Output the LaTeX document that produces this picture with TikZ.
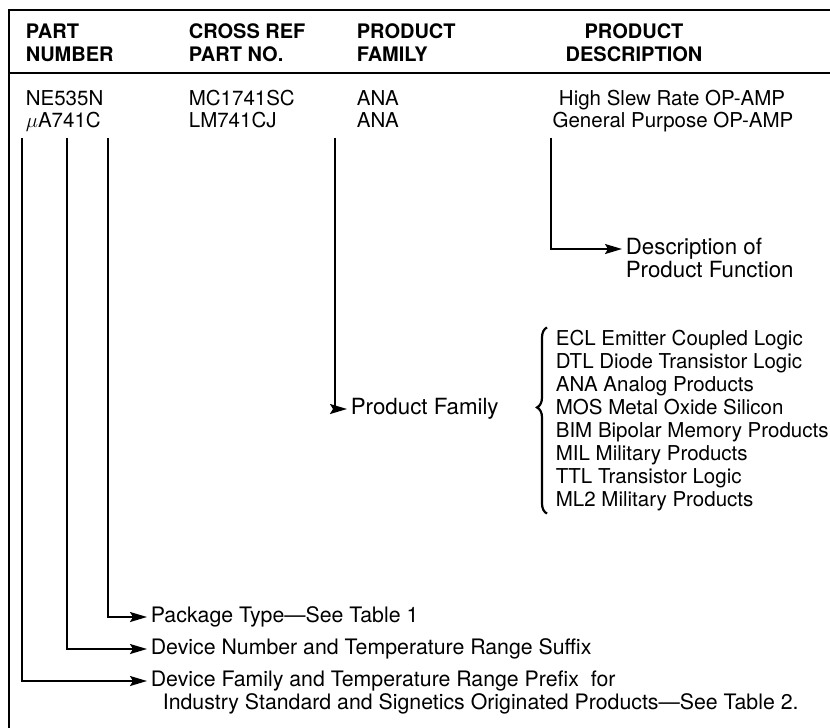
\documentclass[tikz,border=0pt]{standalone}
\usepackage{fontspec}
\setmainfont{TeX Gyre Heros}
\usetikzlibrary{arrows.meta}
\usetikzlibrary{decorations.pathreplacing}

\begin{document}
\begin{tikzpicture}[x=1pt,y=-1pt,->,>={Stealth[length=17pt,width=10pt,inset=3pt]},line width=1.7pt,
	every node/.style={font=\fontsize{20.5}{23}\selectfont,inner sep=0pt},
	hd/.style={font=\fontsize{20}{23}\selectfont\bfseries,align=left,anchor=north west},
	txt/.style={anchor=west,inner xsep=3pt,text height=15pt,text depth=4.5pt},
	note/.style={txt,font=\fontsize{21.3}{23}\selectfont},
	lbl/.style={txt,font=\fontsize{22.3}{23}\selectfont},
	row/.style={anchor=base west}]
	\useasboundingbox (0,0) rectangle (830,728);
	\draw[-] (830,10) -- (9,10) -- (9,728);
	\draw[-] (9,73) -- (830,73);

	\node[hd] (hpart) at (25,23) {PART\\NUMBER};
	\node[hd] (hcross) at (188,23) {CROSS REF\\PART NO.};
	\node[hd] (hfam) at (356,23) {PRODUCT\\FAMILY};
	\node[hd,align=center,anchor=north] (hdesc) at (634,23) {PRODUCT\\DESCRIPTION};

	\node[row] (pn1) at (25,105) {NE535N};
	\node[row] (pn2) at (25,127) {$\mu$A741C};
	\node[row] (cr1) at (188,105) {MC1741SC};
	\node[row] (cr2) at (188,127) {LM741CJ};
	\node[row] (pf1) at (356,105) {ANA};
	\node[row] (pf2) at (356,127) {ANA};
	\node[anchor=base] (pd1) at (672,105) {High Slew Rate OP-AMP};
	\node[anchor=base] (pd2) at (673,127) {General Purpose OP-AMP};

	\node[note] (pkg) at (147,617) {Package Type---See Table 1};
	\node[note] (suffix) at (147,649) {Device Number and Temperature Range Suffix};
	\node[note] (prefix) at (147,681) {Device Family and Temperature Range Prefix\ \ for};
	\node[note] (prefix2) at (159,704) {Industry Standard and Signetics Originated Products---See Table 2.};
	\node[lbl] (func) at (622,249) {Description of};
	\node[lbl] (func2) at (622,272) {Product Function};
	\node[lbl] (family) at (347,409) {Product Family};

	\foreach \code/\what [count=\i] in {ECL/Emitter Coupled Logic,DTL/Diode Transistor Logic,
		ANA/Analog Products,MOS/Metal Oxide Silicon,BIM/Bipolar Memory Products,
		MIL/Military Products,TTL/Transistor Logic,ML2/Military Products}
		\node[txt] (fam\i) at (552,317+23*\i) {\code\ \what};

	\coordinate (lpre) at (22,138);
	\coordinate (lnum) at (67,138);
	\coordinate (lpkg) at (108,138);
	\coordinate (lfam) at (335,138);
	\coordinate (ldesc) at (551,138);

	\draw (lpkg) |- (pkg.west);
	\draw (lnum) |- (suffix.west);
	\draw (lpre) |- (prefix.west);
	\draw (lfam) |- (family.west);
	\draw (ldesc) |- (func.west);
	\draw[-,line width=2.2pt,decorate,decoration={brace,amplitude=10pt,aspect=0.57}]
		([xshift=-5pt,yshift=-2pt]fam8.south west) -- ([xshift=-5pt,yshift=2pt]fam1.north west);
\end{tikzpicture}
\end{document}
